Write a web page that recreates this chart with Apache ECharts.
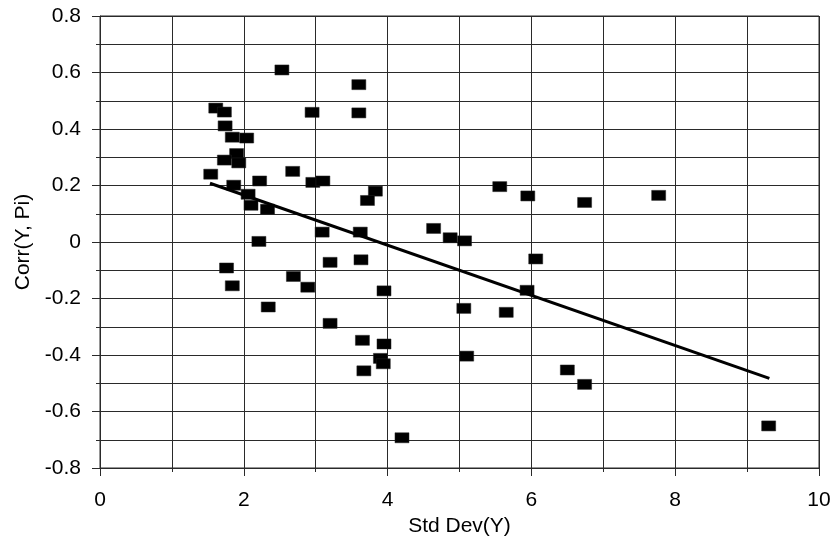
<!DOCTYPE html>
<html>
<head>
<meta charset="utf-8">
<script src="https://cdn.jsdelivr.net/npm/echarts@6/dist/echarts.min.js"></script>
<style>
  html, body { margin: 0; padding: 0; background: #fff; }
  #chart { width: 834px; height: 545px; }
</style>
</head>
<body>
<div id="chart"></div>
<script>
// Std Dev(Y) vs Corr(Y, Pi)
var stdDev = [
  1.54, 1.61, 1.73, 1.74, 1.84, 2.04, 1.90, 1.73, 1.93, 1.86,
  2.22, 2.06, 2.10, 2.33, 2.53, 2.68, 2.95, 2.96, 3.10, 3.60,
  3.60, 3.83, 3.72, 3.09, 3.62, 2.21, 1.76, 1.84, 2.69, 2.89,
  2.34, 3.20, 3.63, 3.20, 3.95, 3.65, 3.95, 3.90, 3.94, 3.67,
  4.20, 4.64, 4.87, 5.07, 5.10, 5.06, 5.56, 5.65, 5.95, 5.94,
  6.06, 6.50, 6.74, 6.74, 7.77, 9.30
];
var corr = [
  0.240, 0.474, 0.460, 0.411, 0.371, 0.368, 0.313, 0.290, 0.280, 0.201,
  0.216, 0.169, 0.130, 0.116, 0.609, 0.250, 0.459, 0.211, 0.216, 0.557,
  0.457, 0.180, 0.147, 0.035, 0.035, 0.002, -0.092, -0.155, -0.122, -0.160,
  -0.230, -0.072, -0.063, -0.288, -0.173, -0.348, -0.361, -0.412, -0.431, -0.456,
  -0.693, 0.048, 0.015, 0.004, -0.404, -0.235, 0.196, -0.249, 0.163, -0.171,
  -0.060, -0.453, 0.140, -0.504, 0.165, -0.651
];
// linear trend line end points
var trendX = [1.53, 9.31];
var trendY = [0.208, -0.483];

var xTicks = [0, 2, 4, 6, 8, 10];
var yTicks = [-0.8, -0.6, -0.4, -0.2, 0, 0.2, 0.4, 0.6, 0.8];

var points = stdDev.map(function (x, i) { return [x, corr[i]]; });
var trend = trendX.map(function (x, i) { return [x, trendY[i]]; });

var font = 'Liberation Sans, Arial, sans-serif';
var gridColor = '#2a2a2a';

var chart = echarts.init(document.getElementById('chart'), null, { renderer: 'canvas' });
chart.setOption({
  animation: false,
  backgroundColor: '#fff',
  grid: { left: 100, top: 16, right: 15, bottom: 77, show: true, borderColor: gridColor, borderWidth: 1 },
  xAxis: {
    type: 'value',
    min: xTicks[0], max: xTicks[xTicks.length - 1], interval: 2,
    name: 'Std Dev(Y)', nameLocation: 'middle', nameGap: 48,
    nameTextStyle: { color: '#000', fontSize: 21, fontFamily: font },
    axisLine: { show: true, onZero: false, lineStyle: { color: gridColor, width: 1 } },
    axisTick: { show: true, inside: false, length: 8, lineStyle: { color: gridColor } },
    minorTick: { show: true, splitNumber: 2, length: 4, lineStyle: { color: gridColor } },
    axisLabel: { color: '#000', fontSize: 21, fontFamily: font, margin: 22 },
    splitLine: { show: true, lineStyle: { color: gridColor, width: 1 } },
    minorSplitLine: { show: true, lineStyle: { color: gridColor, width: 1 } }
  },
  yAxis: {
    type: 'value',
    min: yTicks[0], max: yTicks[yTicks.length - 1], interval: 0.2,
    name: 'Corr(Y, Pi)', nameLocation: 'middle', nameGap: 62,
    nameTextStyle: { color: '#000', fontSize: 21, fontFamily: font },
    axisLine: { show: true, onZero: false, lineStyle: { color: gridColor, width: 1 } },
    axisTick: { show: true, inside: false, length: 8, lineStyle: { color: gridColor } },
    minorTick: { show: true, splitNumber: 2, length: 4, lineStyle: { color: gridColor } },
    axisLabel: {
      color: '#000', fontSize: 21, fontFamily: font, margin: 19,
      formatter: function (v) { return String(Math.round(v * 10) / 10); }
    },
    splitLine: { show: true, lineStyle: { color: gridColor, width: 1 } },
    minorSplitLine: { show: true, lineStyle: { color: gridColor, width: 1 } }
  },
  series: [
    {
      type: 'scatter',
      data: points,
      symbol: 'rect',
      symbolSize: [14, 10],
      itemStyle: { color: '#000', opacity: 1, borderColor: '#222', borderWidth: 0.5 },
      z: 3
    },
    {
      type: 'line',
      data: trend,
      symbol: 'none',
      lineStyle: { color: '#000', width: 3 },
      z: 4
    }
  ]
});
</script>
</body>
</html>
